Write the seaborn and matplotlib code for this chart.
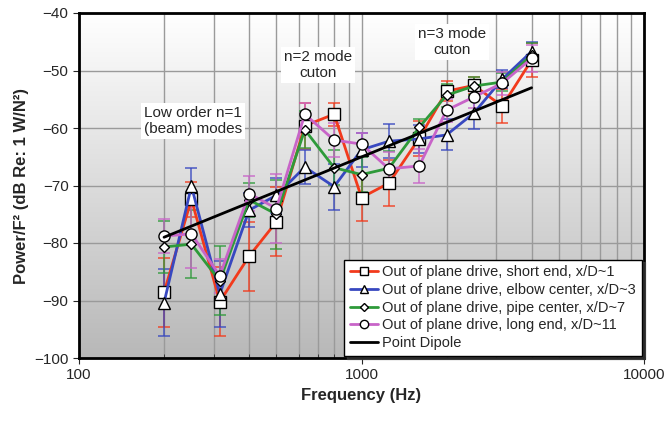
import numpy as np
import pandas as pd
import matplotlib
matplotlib.use('Agg')
import matplotlib.pyplot as plt
import seaborn as sns

sns.set_style('white')
plt.rcParams['font.family'] = ['Liberation Sans', 'DejaVu Sans']

freqs = [200, 250, 315, 400, 500, 630, 800, 1000, 1250, 1600, 2000, 2500, 3150, 4000]

short_end = [-88.6, -72.4, -90.2, -82.3, -76.3, -59.6, -57.6, -72.1, -69.6, -61.8, -53.6, -52.6, -56.2, -48.2]
short_err = [6, 3, 6, 6, 6, 4, 2, 4, 4, 3, 1.7, 1.5, 3, 3]
elbow = [-90.4, -70.1, -88.9, -74.3, -71.7, -66.8, -70.2, -63.8, -62.3, -61.9, -61.2, -57.4, -51.5, -46.7]
elbow_err = [5.8, 3.1, 5.7, 3, 3, 3, 4, 3, 3, 2.5, 2.7, 2.8, 1.6, 1.7]
pipe = [-80.7, -80.2, -86.6, -72.5, -75.0, -60.3, -66.9, -68.1, -67.0, -59.9, -54.3, -52.7, -52.0, -47.3]
pipe_err = [4.5, 5.9, 6, 3, 6, 3.2, 3, 3, 3, 1.5, 2, 1.5, 1.5, 2]
long_end = [-78.8, -78.4, -85.7, -71.4, -74.0, -57.6, -62.1, -62.8, -67.1, -66.6, -56.9, -54.6, -52.2, -47.9]
long_err = [3, 5.9, 3, 3, 6, 2, 3, 2, 3, 3, 2, 2, 2, 2.4]

dipole_freq = [200, 4000]
dipole_db = [-79.0, -53.0]

labels = ['Out of plane drive, short end, x/D~1',
          'Out of plane drive, elbow center, x/D~3',
          'Out of plane drive, pipe center, x/D~7',
          'Out of plane drive, long end, x/D~11']
colors = ['#f23a1c', '#3848c0', '#2e9a3a', '#c864c8']
markers = ['s', '^', 'D', 'o']
msizes = [8, 8, 5.5, 8]

series = [short_end, elbow, pipe, long_end]
errs = [short_err, elbow_err, pipe_err, long_err]

rows = []
for lab, vals in zip(labels, series):
    for f, v in zip(freqs, vals):
        rows.append({'freq': f, 'db': v, 'series': lab})
data = pd.DataFrame(rows)

fig = plt.figure(figsize=(6.69, 4.25), dpi=100)
ax = fig.add_axes([79/669, 1 - 358/425, (644-79)/669, (358-13)/425])

# gradient background
grad = np.linspace(1, 0, 256).reshape(-1, 1)
ax.imshow(grad, extent=[0, 1, 0, 1], transform=ax.transAxes, aspect='auto',
          cmap=matplotlib.colors.LinearSegmentedColormap.from_list('g', ['#b8b8b8', '#ffffff']),
          zorder=0)

ax.set_xscale('log')
ax.set_xlim(100, 10000)
ax.set_ylim(-100, -40)

for lab, vals, er, c in zip(labels, series, errs, colors):
    ax.errorbar(freqs, vals, yerr=er, fmt='none', ecolor=c, alpha=0.75,
                elinewidth=1.3, capsize=4, capthick=1.3, zorder=2)

n_before = len(ax.lines)
sns.lineplot(data=data, x='freq', y='db', hue='series', style='series',
             hue_order=labels, style_order=labels, palette=colors,
             markers=dict(zip(labels, markers)), dashes=False, linewidth=2,
             markerfacecolor='white', markeredgecolor='black', markeredgewidth=1,
             markersize=8, ax=ax, zorder=3, legend=False)
# smaller diamonds like the original
for ln, ms in zip(ax.lines[n_before:], msizes):
    ln.set_markersize(ms)

ax.plot(dipole_freq, dipole_db, color='black', lw=2, zorder=4)

ax.set_yticks(np.arange(-100, -39, 10))
ax.grid(True, which='major', color='#9a9a9a', lw=1)
ax.grid(True, which='minor', axis='x', color='#9a9a9a', lw=1)
ax.tick_params(axis='both', which='major', labelsize=11, length=4, direction='out', left=True, bottom=True)
ax.tick_params(axis='x', which='minor', length=3, direction='in', bottom=True)
ax.xaxis.set_major_formatter(matplotlib.ticker.FuncFormatter(lambda v, p: f'{int(v)}'))
ax.xaxis.set_minor_formatter(matplotlib.ticker.NullFormatter())

for s in ax.spines.values():
    s.set_color('black')
    s.set_linewidth(2)

ax.set_xlabel('Frequency (Hz)', fontsize=12, fontweight='bold')
ax.set_ylabel('Power/F² (dB Re: 1 W/N²)', fontsize=12, fontweight='bold')

box = dict(facecolor='white', edgecolor='none', pad=2)
ax.text(253, -58.8, 'Low order n=1\n(beam) modes', ha='center', va='center',
        fontsize=11, bbox=box, zorder=5)
ax.text(702, -49.0, 'n=2 mode\ncuton', ha='center', va='center',
        fontsize=11, bbox=box, zorder=5)
ax.text(2090, -45.0, 'n=3 mode\ncuton', ha='center', va='center',
        fontsize=11, bbox=box, zorder=5)

handles = []
for lab, c, m, ms in zip(labels, colors, markers, msizes):
    h, = ax.plot([], [], color=c, lw=2, marker=m, markersize=ms * 0.75,
                 markerfacecolor='white', markeredgecolor='black', markeredgewidth=1, label=lab)
    handles.append(h)
h, = ax.plot([], [], color='black', lw=2, label='Point Dipole')
handles.append(h)

leg = ax.legend(handles=handles, loc='lower right', borderaxespad=0.15, fontsize=10.5,
                frameon=True, fancybox=False, shadow=True, framealpha=1,
                edgecolor='black', handlelength=1.9, handletextpad=0.3,
                labelspacing=0.25, borderpad=0.4)
leg.get_frame().set_linewidth(1)
leg.set_zorder(6)

fig.savefig('out.png', dpi=100)
